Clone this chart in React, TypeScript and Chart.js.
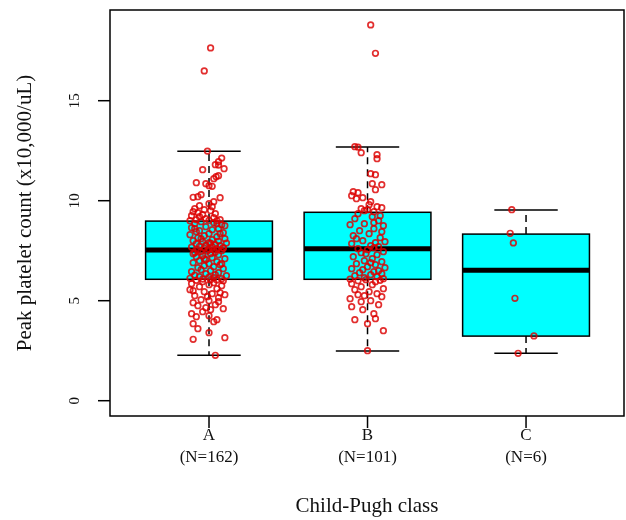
import React, { useEffect, useRef } from "react";
import { Chart, registerables } from "chart.js";

Chart.register(...registerables);

// ---- data ----
const categories = ["A", "B", "C"];
const sampleSizes = [162, 101, 6];
const q1 = [6.07, 6.07, 3.23];
const medians = [7.53, 7.6, 6.52];
const q3 = [8.98, 9.42, 8.33];
const whiskerLow = [2.27, 2.48, 2.37];
const whiskerHigh = [12.47, 12.68, 9.53];
const yTicks = [0, 5, 10, 15];
const xTitle = "Child-Pugh class";
const yTitle = "Peak platelet count (x10,000/uL)";

const aValues = [
  17.64, 16.49,
  12.48, 12.13, 11.95, 11.8, 11.78, 11.6, 11.55, 11.25, 11.1, 11.2,
  10.9, 10.85, 10.72, 10.75, 10.2, 10.17, 10.15, 10.3, 9.95, 9.85,
  9.75, 9.7, 9.6, 9.55, 9.5, 9.45, 9.4, 9.35, 9.3, 9.25,
  9.2, 9.15, 9.1, 9.05, 9.05, 9.0, 9.0, 9.02,
  8.95, 8.9, 8.85, 8.8, 8.75, 8.7, 8.65, 8.6, 8.55, 8.5,
  8.45, 8.4, 8.35, 8.3, 8.25, 8.2, 8.15, 8.1, 8.05, 8.0,
  7.98, 7.95, 7.9, 7.88, 7.85, 7.8, 7.78, 7.75, 7.72, 7.7,
  7.68, 7.65, 7.62, 7.6, 7.58, 7.55, 7.53, 7.5, 7.48, 7.45,
  7.42, 7.4, 7.35, 7.3, 7.25, 7.2, 7.15, 7.1, 7.05, 7.0,
  6.95, 6.9, 6.85, 6.8, 6.75, 6.7, 6.65, 6.6, 6.55, 6.5,
  6.45, 6.4, 6.35, 6.3, 6.28, 6.25, 6.2, 6.18, 6.15, 6.12,
  6.1, 6.08, 8.85, 8.6, 8.35, 8.1, 7.88, 7.62, 7.35, 7.1, 6.85,
  2.27, 3.07, 3.15, 3.4, 3.6, 3.85, 3.95, 4.05, 4.2, 4.25,
  4.45, 4.55, 4.6, 4.65, 4.75, 4.8, 4.9, 5.0, 5.05, 5.15,
  5.25, 5.3, 5.35, 5.45, 5.5, 5.6, 5.7, 5.75, 5.8, 5.85,
  5.9, 5.95, 6.0, 6.02, 6.05, 5.4, 4.95, 4.35, 5.2, 5.55, 6.04,
];
const aJitter = [
  0.01, -0.03,
  -0.01, 0.08, 0.06, 0.04, 0.06, 0.095, -0.04, 0.06, 0.03, 0.045,
  -0.08, -0.02, 0.02, 0.0, -0.07, -0.1, 0.07, -0.05, 0.03, 0.0,
  -0.06, 0.02, -0.09, -0.03, 0.01, -0.1, -0.07, 0.04, -0.04, -0.11,
  -0.06, 0.03, -0.02, 0.07, -0.08, 0.05, -0.12, 0.0,
  -0.05, 0.03, -0.09, 0.08, 0.1, -0.02, -0.11, 0.06, 0.02, -0.06,
  -0.08, 0.09, 0.0, -0.12, -0.03, 0.05, -0.07, 0.1, 0.02, -0.1,
  0.06, -0.04, 0.0, 0.11, -0.08, 0.04, -0.02, 0.07, -0.06, 0.02,
  -0.11, 0.09, -0.03, 0.05, 0.0, -0.07, 0.03, 0.08, -0.01, -0.05,
  0.04, -0.09, 0.01, 0.06, -0.04, -0.08, 0.02, 0.1, -0.02, -0.06,
  0.05, -0.1, 0.0, 0.07, -0.03, 0.03, -0.07, 0.09, -0.05, 0.01,
  -0.11, 0.06, -0.02, 0.04, -0.09, 0.11, -0.06, 0.0, 0.03, -0.12,
  0.08, -0.04, 0.05, -0.09, 0.07, -0.05, 0.01, 0.09, -0.1, -0.03, 0.08,
  0.04, -0.1, 0.1, 0.0, -0.07, -0.1, 0.03, 0.05, -0.08, 0.0,
  -0.04, 0.01, 0.09, -0.02, -0.07, 0.04, -0.1, 0.0, -0.05, 0.06,
  -0.09, 0.1, 0.02, -0.03, -0.1, 0.05, -0.06, 0.08, 0.0, -0.11,
  0.03, -0.04, 0.09, -0.08, 0.01, 0.07, 0.06, -0.11, -0.01, -0.12, 0.05,
];

const bValues = [
  18.79, 17.37,
  12.7, 12.68, 12.4, 12.3, 12.1, 11.35, 11.3, 10.85, 10.8, 10.55,
  10.45, 10.4, 10.25, 10.15, 10.1, 9.95, 9.8, 9.7, 9.65, 9.6,
  9.55, 9.5, 9.45,
  9.35, 9.2, 9.1, 9.0, 8.85, 8.8, 8.75, 8.6, 8.5, 8.35,
  8.25, 8.15, 8.0, 7.9, 7.85, 7.75, 7.7, 7.6, 7.55, 7.45,
  7.4, 7.3, 7.2, 7.1, 7.0, 6.95, 6.85, 6.8, 6.7, 6.65,
  6.6, 6.5, 6.45, 6.4, 6.35, 6.3, 6.25, 6.2, 6.15, 6.1,
  6.08, 8.9, 8.45, 8.1, 7.65, 7.35, 6.9, 6.55, 9.25, 7.95,
  2.5, 3.5, 3.85, 4.05, 4.1, 4.55, 4.7, 4.8, 4.95, 5.0,
  5.1, 5.2, 5.3, 5.35, 5.45, 5.55, 5.7, 5.8, 5.85, 5.95,
  6.0, 6.02, 5.6, 5.25, 4.35, 6.05,
];
const bJitter = [
  0.02, 0.05,
  -0.08, -0.06, -0.04, 0.06, 0.06, 0.02, 0.05, 0.03, 0.09, 0.05,
  -0.09, -0.06, -0.1, -0.03, -0.07, 0.02, 0.01, 0.06, 0.09, -0.04,
  0.0, -0.02, 0.04,
  -0.06, 0.03, -0.08, 0.07, -0.02, -0.11, 0.1, 0.04, -0.05, 0.01,
  -0.09, 0.08, -0.03, 0.05, -0.1, 0.02, 0.07, -0.06, 0.0, 0.1,
  -0.04, 0.06, -0.09, 0.03, -0.02, 0.09, -0.07, 0.05, 0.0, 0.11,
  -0.1, 0.07, 0.04, -0.05, 0.09, 0.02, -0.08, 0.06, -0.02, 0.1,
  -0.11, 0.04, 0.09, -0.07, 0.04, -0.01, 0.02, -0.03, 0.08, 0.11,
  0.0, 0.1, 0.0, -0.08, 0.05, -0.03, -0.1, 0.07, -0.04, 0.02,
  -0.11, 0.09, -0.06, 0.06, 0.01, -0.08, -0.04, 0.03, -0.1, 0.05,
  -0.06, 0.08, 0.1, -0.02, 0.04, -0.01,
];

const cValues = [9.55, 8.37, 7.89, 5.12, 3.24, 2.37];
const cJitter = [-0.09, -0.1, -0.08, -0.07, 0.05, -0.05];

const pointValues = [aValues, bValues, cValues];
const pointJitter = [aJitter, bJitter, cJitter];

const FONT = "'Liberation Serif', 'Times New Roman', serif";

const boxPlugin = {
  id: "rBoxplot",
  beforeDatasetsDraw(chart: any) {
    const { ctx } = chart;
    const xs = chart.scales.x;
    const ys = chart.scales.y;
    const boxHalf = 0.4;
    const capHalf = 0.2;
    ctx.save();
    categories.forEach((_, i) => {
      const cx = xs.getPixelForValue(i + 1);
      const l = xs.getPixelForValue(i + 1 - boxHalf);
      const r = xs.getPixelForValue(i + 1 + boxHalf);
      const yq1 = ys.getPixelForValue(q1[i]);
      const yq3 = ys.getPixelForValue(q3[i]);
      const ym = ys.getPixelForValue(medians[i]);
      const ylo = ys.getPixelForValue(whiskerLow[i]);
      const yhi = ys.getPixelForValue(whiskerHigh[i]);
      ctx.strokeStyle = "#000";
      ctx.lineWidth = 1.5;
      ctx.setLineDash([7, 5]);
      ctx.beginPath();
      ctx.moveTo(cx, yq3);
      ctx.lineTo(cx, yhi);
      ctx.moveTo(cx, yq1);
      ctx.lineTo(cx, ylo);
      ctx.stroke();
      ctx.setLineDash([]);
      const cl = xs.getPixelForValue(i + 1 - capHalf);
      const cr = xs.getPixelForValue(i + 1 + capHalf);
      ctx.beginPath();
      ctx.moveTo(cl, yhi);
      ctx.lineTo(cr, yhi);
      ctx.moveTo(cl, ylo);
      ctx.lineTo(cr, ylo);
      ctx.stroke();
      ctx.fillStyle = "#00FFFF";
      ctx.fillRect(l, yq3, r - l, yq1 - yq3);
      ctx.lineWidth = 1.5;
      ctx.strokeRect(l, yq3, r - l, yq1 - yq3);
      ctx.lineWidth = 5;
      ctx.beginPath();
      ctx.moveTo(l, ym);
      ctx.lineTo(r, ym);
      ctx.stroke();
    });
    ctx.restore();
  },
  afterDraw(chart: any) {
    const { ctx, chartArea } = chart;
    const xs = chart.scales.x;
    const ys = chart.scales.y;
    ctx.save();
    ctx.strokeStyle = "#000";
    ctx.lineWidth = 1.5;
    ctx.strokeRect(chartArea.left, chartArea.top, chartArea.right - chartArea.left, chartArea.bottom - chartArea.top);
    ctx.fillStyle = "#111";
    ctx.font = `15px ${FONT}`;
    yTicks.forEach((t) => {
      const y = ys.getPixelForValue(t);
      ctx.beginPath();
      ctx.moveTo(chartArea.left - 12, y);
      ctx.lineTo(chartArea.left, y);
      ctx.stroke();
      ctx.save();
      ctx.translate(chartArea.left - 35, y);
      ctx.rotate(-Math.PI / 2);
      ctx.textAlign = "center";
      ctx.textBaseline = "middle";
      ctx.fillText(String(t), 0, 0);
      ctx.restore();
    });
    ctx.font = `17px ${FONT}`;
    ctx.textAlign = "center";
    ctx.textBaseline = "middle";
    categories.forEach((c, i) => {
      const x = xs.getPixelForValue(i + 1);
      ctx.beginPath();
      ctx.moveTo(x, chartArea.bottom);
      ctx.lineTo(x, chartArea.bottom + 12);
      ctx.stroke();
      ctx.fillText(c, x, chartArea.bottom + 20);
      ctx.fillText(`(N=${sampleSizes[i]})`, x, chartArea.bottom + 42);
    });
    ctx.font = `21px ${FONT}`;
    const midX = (chartArea.left + chartArea.right) / 2;
    const midY = (chartArea.top + chartArea.bottom) / 2;
    ctx.fillText(xTitle, midX, chartArea.bottom + 90);
    ctx.save();
    ctx.translate(25, midY);
    ctx.rotate(-Math.PI / 2);
    ctx.fillText(yTitle, 0, 0);
    ctx.restore();
    ctx.restore();
  },
};

export default function App() {
  const ref = useRef<HTMLCanvasElement | null>(null);
  useEffect(() => {
    document.body.style.margin = "0";
    const canvas = ref.current;
    if (!canvas) return;
    const datasets = categories.map((c, i) => ({
      label: c,
      data: pointValues[i].map((v, k) => ({ x: i + 1 + pointJitter[i][k], y: v })),
      pointStyle: "circle",
      pointRadius: 2.8,
      pointBorderWidth: 1.7,
      borderColor: "rgba(220,0,0,0.82)",
      backgroundColor: "rgba(0,0,0,0)",
      showLine: false,
    }));
    const chart = new Chart(canvas, {
      type: "scatter",
      data: { datasets },
      options: {
        animation: false,
        responsive: false,
        devicePixelRatio: 1,
        layout: { autoPadding: false, padding: { left: 110, right: 2, top: 10, bottom: 104 } },
        plugins: { legend: { display: false }, tooltip: { enabled: false } },
        scales: {
          x: { type: "linear", min: 0.3754, max: 3.618, display: false },
          y: { type: "linear", min: -0.765, max: 19.535, display: false },
        },
      },
      plugins: [boxPlugin],
    });
    return () => chart.destroy();
  }, []);
  return (
    <div style={{ width: 626, height: 520, background: "#fff" }}>
      <canvas ref={ref} width={626} height={520} style={{ display: "block" }} />
    </div>
  );
}
